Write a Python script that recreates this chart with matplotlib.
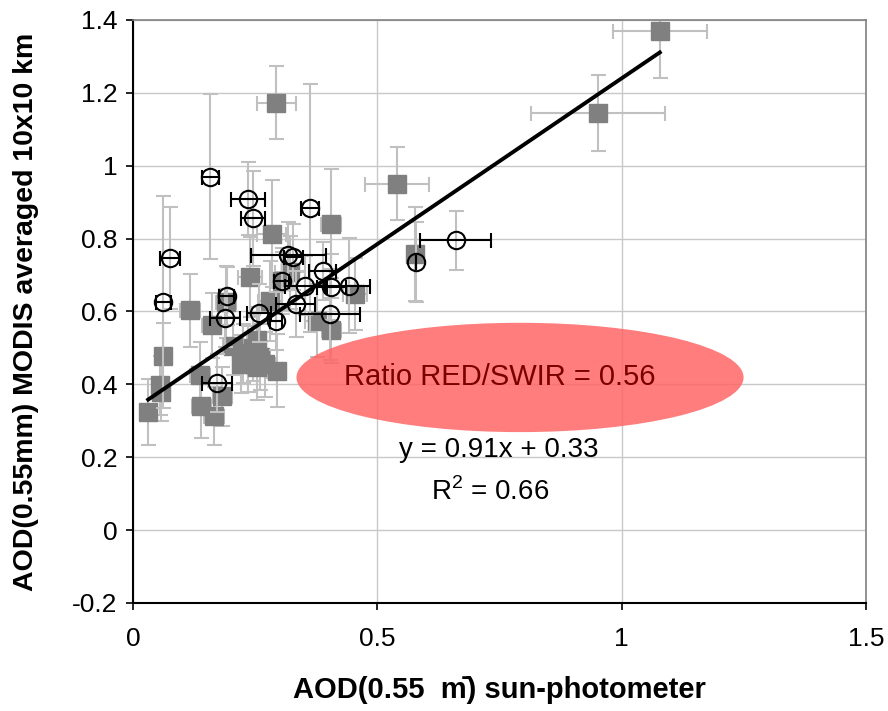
import numpy as np
import matplotlib
matplotlib.use("Agg")
import matplotlib.pyplot as plt
from matplotlib.patches import Ellipse

plt.rcParams["font.family"] = ["Liberation Sans", "DejaVu Sans"]
plt.rcParams["mathtext.fontset"] = "custom"
plt.rcParams["mathtext.rm"] = "Liberation Sans"

# ─── Data ──────────────────────────────────────────────────────────────────────

# filled squares (gray error bars)
sq_x = [1.078, 0.952, 0.293, 0.540, 0.405, 0.284, 0.577, 0.239, 0.321, 0.304,
        0.454, 0.117, 0.280, 0.190, 0.161, 0.376, 0.406, 0.253, 0.062, 0.137,
        0.055, 0.058, 0.031, 0.140, 0.166, 0.183, 0.294, 0.253, 0.260, 0.225,
        0.235, 0.220, 0.245, 0.270, 0.205]
sq_y = [1.370, 1.145, 1.173, 0.951, 0.841, 0.813, 0.758, 0.694, 0.708, 0.683,
        0.648, 0.603, 0.628, 0.626, 0.562, 0.575, 0.548, 0.521, 0.479, 0.427,
        0.397, 0.380, 0.324, 0.342, 0.313, 0.367, 0.438, 0.447, 0.475, 0.485,
        0.470, 0.455, 0.500, 0.455, 0.505]
sq_xerr = [0.096, 0.137, 0.040, 0.065, 0.020, 0.030, 0.015, 0.025, 0.030, 0.020,
           0.025, 0.020, 0.025, 0.020, 0.020, 0.025, 0.020, 0.020, 0.015, 0.020,
           0.015, 0.015, 0.015, 0.020, 0.020, 0.020, 0.020, 0.020, 0.020, 0.020,
           0.020, 0.015, 0.020, 0.020, 0.020]
sq_yerr = [0.130, 0.105, 0.100, 0.100, 0.150, 0.147, 0.130, 0.110, 0.100, 0.090,
           0.100, 0.100, 0.110, 0.100, 0.090, 0.100, 0.090, 0.090, 0.090, 0.090,
           0.080, 0.080, 0.090, 0.090, 0.080, 0.080, 0.100, 0.090, 0.090, 0.080,
           0.090, 0.080, 0.090, 0.090, 0.080]

# open circles (black x error bars, gray y error bars)
ci_x = [0.158, 0.236, 0.246, 0.362, 0.076, 0.062, 0.318, 0.328, 0.388, 0.304,
        0.352, 0.406, 0.441, 0.192, 0.333, 0.258, 0.188, 0.292, 0.403, 0.172,
        0.579, 0.660]
ci_y = [0.970, 0.910, 0.856, 0.884, 0.746, 0.626, 0.755, 0.750, 0.712, 0.683,
        0.671, 0.668, 0.671, 0.642, 0.621, 0.596, 0.582, 0.574, 0.592, 0.404,
        0.735, 0.795]
ci_xerr = [0.017, 0.035, 0.024, 0.019, 0.020, 0.015, 0.077, 0.020, 0.027, 0.015,
           0.040, 0.030, 0.045, 0.015, 0.040, 0.024, 0.031, 0.012, 0.061, 0.030,
           0.000, 0.073]
ci_yerr = [0.226, 0.100, 0.130, 0.340, 0.140, 0.290, 0.090, 0.090, 0.080, 0.080,
           0.080, 0.090, 0.130, 0.080, 0.090, 0.080, 0.080, 0.080, 0.126, 0.080,
           0.110, 0.080]

# linear trend from the chart label
slope, intercept = 0.91, 0.33
r2 = 0.66

# ─── Plot ──────────────────────────────────────────────────────────────────────

fig = plt.figure(figsize=(8.88, 7.11), dpi=100)
ax = fig.add_axes([133 / 888, 1 - 603 / 711, 733 / 888, 583 / 711])

ax.set_xlim(0, 1.5)
ax.set_ylim(-0.2, 1.4)
ax.set_xticks([0, 0.5, 1, 1.5])
ax.set_xticklabels(["0", "0.5", "1", "1.5"])
ax.set_yticks(np.arange(-0.2, 1.41, 0.2))
ax.set_yticklabels(["-0.2", "0", "0.2", "0.4", "0.6", "0.8", "1", "1.2", "1.4"])
ax.grid(True, color="#c8c8c8", lw=1)
ax.set_axisbelow(True)

ax.errorbar(sq_x, sq_y, xerr=sq_xerr, yerr=sq_yerr, fmt="s", ms=12.5,
            mfc="#808080", mec="#808080", ecolor="#c0c0c0", elinewidth=1.5,
            capsize=5.4, capthick=1.5, zorder=2)

ax.errorbar(ci_x, ci_y, yerr=ci_yerr, fmt="none", ecolor="#c0c0c0",
            elinewidth=1.5, capsize=5.4, capthick=1.5, zorder=3)
ax.errorbar(ci_x, ci_y, xerr=ci_xerr, fmt="o", ms=12.5, mfc="none",
            mec="black", mew=1.5, ecolor="black", elinewidth=1.5,
            capsize=5.4, capthick=1.5, zorder=4)

all_x = np.array(sq_x + ci_x)
xl = np.array([all_x.min(), all_x.max()])
ax.plot(xl, slope * xl + intercept, color="black", lw=2.8, zorder=5)

ell = Ellipse((0.792, 0.419), 0.915, 0.30, facecolor="#ff6666", alpha=0.85,
              edgecolor="none", zorder=6)
ax.add_patch(ell)
ax.text(0.751, 0.419, "Ratio RED/SWIR = 0.56", color="#7a0000", fontsize=21,
        ha="center", va="center", zorder=7)

ax.text(0.748, 0.22, f"y = {slope:.2f}x + {intercept:.2f}", fontsize=20,
        ha="center", va="center")
ax.text(0.731, 0.105, "R$^2$ = " + f"{r2:.2f}", fontsize=20,
        ha="center", va="center")

for side in ["left", "bottom"]:
    ax.spines[side].set_color("black")
    ax.spines[side].set_linewidth(1.5)
for side in ["top", "right"]:
    ax.spines[side].set_color("#808080")
    ax.spines[side].set_linewidth(1.2)

ax.tick_params(axis="both", labelsize=19, direction="out", length=5, width=1.2)
ax.tick_params(axis="x", pad=12)
ax.tick_params(axis="y", pad=6)

ax.set_xlabel("AOD(0.55  m\u0304) sun-photometer", fontsize=21,
              fontweight="bold", labelpad=18)
ax.set_ylabel("AOD(0.55mm) MODIS averaged 10x10 km", fontsize=20.5,
              fontweight="bold", labelpad=24)

fig.savefig("out.png", dpi=100)
